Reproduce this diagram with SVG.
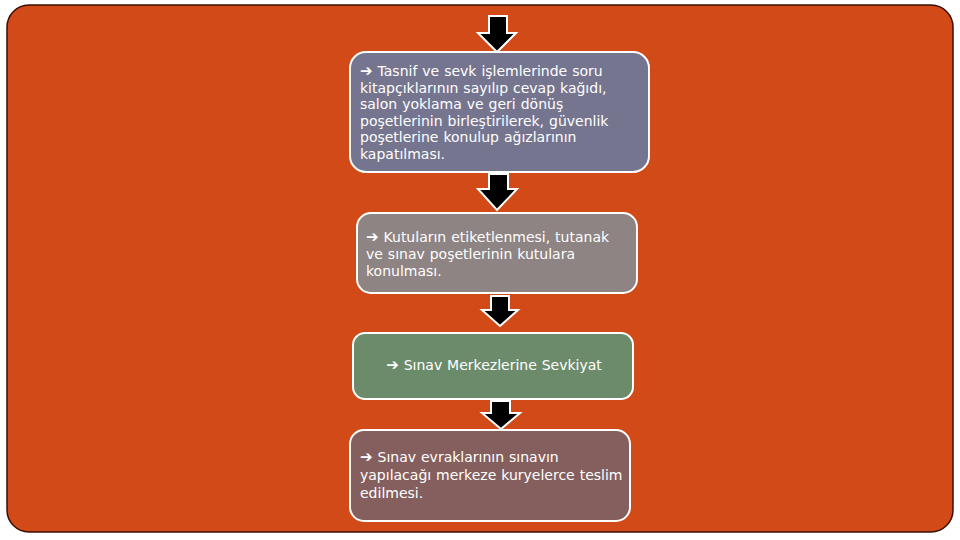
<svg xmlns="http://www.w3.org/2000/svg" width="960" height="540" viewBox="0 0 960 540">
<style>
.t{font-family:"DejaVu Sans","Liberation Sans",sans-serif;font-size:14px;fill:#ffffff;word-spacing:0.5px;}
.a{font-size:15px;}
.box{stroke:#ffffff;stroke-width:2;}
.arr{fill:#000000;stroke:#ffffff;stroke-width:2;stroke-linejoin:miter;}
</style>
<rect x="0" y="0" width="960" height="540" fill="#ffffff"/>
<rect id="bg" x="7" y="5" width="946" height="527" rx="22" ry="22" fill="#D14A17" stroke="#3a0f05" stroke-width="1.5"/>
<g id="connectors">
<polygon class="arr" points="489,16 507,16 507,33 516,33 497,52 478,33 489,33"/>
<polygon class="arr" points="489,174 508,174 508,189 517,189 497,210 478,189 489,189"/>
<polygon class="arr" points="491,296 509,296 509,310 518,310 500,326 482,310 491,310"/>
<polygon class="arr" points="491,401 510,401 510,413 520,413 501,429 482,413 491,413"/>
</g>
<g id="n1">
<rect class="box" x="350" y="52" width="299" height="120" rx="16" fill="#76758F"/>
<text class="t" x="360" y="76"><tspan class="a">➔</tspan> Tasnif ve sevk işlemlerinde soru</text>
<text class="t" x="360" y="92.6">kitapçıklarının sayılıp cevap kağıdı,</text>
<text class="t" x="360" y="109.2">salon yoklama ve geri dönüş</text>
<text class="t" x="360" y="125.8">poşetlerinin birleştirilerek, güvenlik</text>
<text class="t" x="360" y="142.4">poşetlerine konulup ağızlarının</text>
<text class="t" x="360" y="159">kapatılması.</text>
</g>
<g id="n2">
<rect class="box" x="357" y="213" width="280" height="80" rx="14" fill="#8E8483"/>
<text class="t" x="366" y="242"><tspan class="a">➔</tspan> Kutuların etiketlenmesi, tutanak</text>
<text class="t" x="366" y="259">ve sınav poşetlerinin kutulara</text>
<text class="t" x="366" y="276">konulması.</text>
</g>
<g id="n3">
<rect class="box" x="353" y="333" width="280" height="66" rx="12" fill="#6C8B6A"/>
<text class="t" x="494" y="370" text-anchor="middle"><tspan class="a">➔</tspan> Sınav Merkezlerine Sevkiyat</text>
</g>
<g id="n4">
<rect class="box" x="350" y="430" width="280" height="91" rx="14" fill="#855F5D"/>
<text class="t" x="360" y="462"><tspan class="a">➔</tspan> Sınav evraklarının sınavın</text>
<text class="t" x="360" y="480">yapılacağı merkeze kuryelerce teslim</text>
<text class="t" x="360" y="498">edilmesi.</text>
</g>
</svg>
